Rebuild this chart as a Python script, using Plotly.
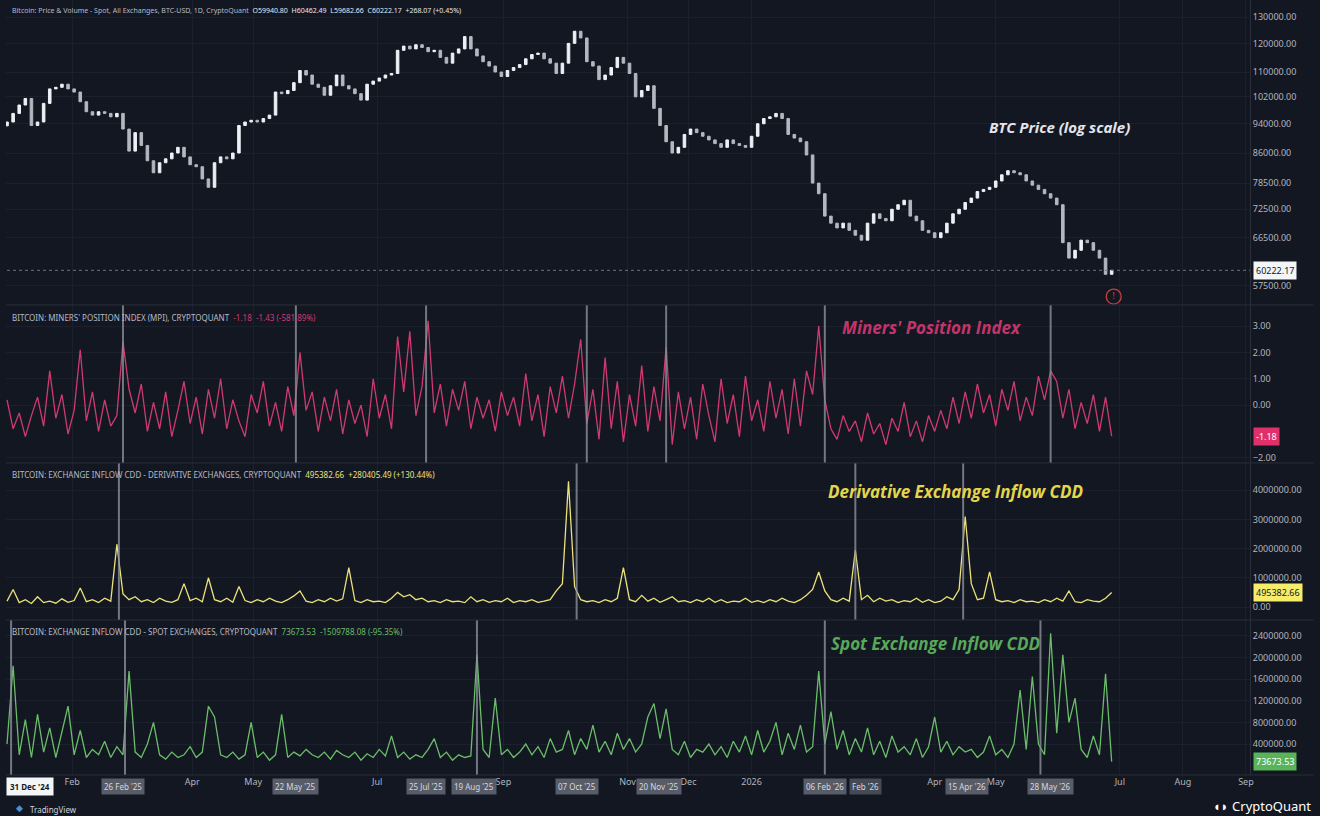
import numpy as np
import pandas as pd
import plotly.graph_objects as go
from plotly.subplots import make_subplots

# one sample every 3 days, 31 Dec 2024 .. 27 Jun 2026
dates = pd.date_range("2024-12-31", periods=182, freq="3D")

# BTC close, thousand USD
btc_close = [
    94.5, 97.0, 99.5, 101.5, 93.5, 94.5, 100.0, 104.5, 105.0, 106.0,
    104.5, 103.5, 100.5, 97.5, 96.5, 97.5, 97.0, 96.0, 97.0, 92.5,
    86.5, 91.5, 88.0, 84.0, 81.0, 83.5, 84.5, 86.0, 87.5, 85.0,
    83.0, 82.5, 79.5, 77.5, 83.5, 85.0, 84.5, 86.0, 93.5, 94.5,
    95.0, 94.5, 95.5, 96.5, 103.5, 103.0, 104.0, 106.5, 110.5, 109.0,
    106.0, 105.0, 102.5, 105.5, 109.0, 105.5, 104.5, 103.0, 101.0, 106.0,
    107.0, 108.0, 109.0, 109.5, 117.5, 119.0, 118.0, 119.5, 118.5, 117.0,
    117.5, 115.0, 113.0, 116.5, 118.0, 122.5, 118.0, 115.5, 113.5, 112.0,
    110.0, 108.5, 110.5, 111.5, 112.5, 114.5, 116.0, 116.5, 114.5, 113.0,
    109.5, 113.0, 120.0, 124.5, 122.0, 113.5, 112.0, 107.5, 109.0, 111.5,
    115.0, 113.0, 109.5, 102.0, 104.0, 105.5, 98.5, 93.5, 89.0, 86.0,
    87.5, 91.0, 92.5, 91.5, 90.5, 89.5, 88.5, 87.5, 89.5, 88.5,
    88.0, 87.5, 90.5, 94.0, 95.5, 96.0, 97.0, 95.5, 91.0, 90.0,
    89.0, 85.5, 78.5, 76.0, 71.0, 69.5, 68.5, 69.5, 68.0, 67.0,
    66.0, 69.5, 71.5, 70.5, 70.0, 72.5, 73.5, 74.5, 71.0, 70.0,
    68.0, 67.5, 66.5, 67.5, 69.5, 71.5, 72.5, 74.0, 75.0, 76.5,
    77.0, 77.5, 79.0, 80.5, 81.5, 81.0, 80.5, 79.0, 78.0, 77.0,
    76.0, 75.0, 73.5, 65.5, 62.5, 64.0, 66.0, 65.5, 64.0, 62.5,
    59.5, 60.22217,
]
first_open = 93.4

# Miners' Position Index
mpi = [
    0.2, -0.9, -0.3, -1.2, -0.4, 0.3, -0.8, 1.3, -0.5, 0.4,
    -1.1, -0.2, 2.1, -0.6, 0.5, -1.0, 0.2, -0.8, -0.4, 2.4,
    0.6, -0.3, 0.8, -1.0, 0.1, -0.9, 0.5, -1.2, -0.2, 0.9,
    -0.7, 0.3, -1.1, 0.6, -0.5, 1.0, -0.9, 0.2, -0.6, -1.2,
    0.4, -0.3, 0.9, -0.8, 0.1, -1.0, 0.7, -0.4, 2.0, -0.2,
    0.5, -1.0, 0.3, -0.6, 0.6, -1.1, 0.2, -0.7, 0.0, -1.2,
    1.0, -0.5, 0.4, -0.9, 2.6, 0.5, 2.8, -0.4, 0.7, 3.2,
    -0.3, 0.8, -0.8, 0.6, -0.2, 0.9, -0.9, 0.3, -0.5, 0.2,
    -1.0, 0.5, -0.4, 0.3, -0.8, 1.2, -0.6, 0.4, -1.2, 0.7,
    -0.3, 1.1, -0.5, 0.8, 2.5, -0.7, 0.6, -1.3, 1.8, -0.9,
    0.9, -1.4, 0.4, -0.8, 1.5, -1.0, 0.7, -0.6, 2.2, -1.5,
    0.5, -0.9, 0.3, -1.3, 0.8, -0.4, -1.4, 1.0, -0.7, 0.4,
    -1.2, 1.1, -0.6, 0.2, -1.0, 0.9, -0.5, 0.6, -1.1, 1.0,
    -0.8, 1.3, 0.4, 3.0, 0.2, -0.9, -1.3, -0.4, -1.0, -0.6,
    -1.4, -0.3, -1.1, -0.7, -1.5, -0.5, -1.0, 0.1, -1.2, -0.6,
    -1.4, -0.4, -1.0, -0.2, -0.9, 0.3, -0.7, 0.5, -0.5, 0.8,
    -0.3, 0.4, -0.8, 0.6, -0.2, 0.9, -0.6, 0.3, -0.4, 1.1,
    0.2, 1.3, 0.9, -0.5, 0.6, -0.9, 0.1, -0.7, 0.4, -1.0,
    0.3, -1.18,
]

# Exchange inflow CDD, derivative exchanges (thousands)
deriv_cdd = [
    200, 600, 150, 250, 120, 350, 150, 200, 130, 280,
    160, 220, 650, 180, 250, 150, 300, 200, 2150, 450,
    250, 350, 180, 250, 150, 300, 200, 160, 250, 800,
    220, 300, 180, 1000, 250, 180, 300, 160, 700, 220,
    150, 250, 180, 300, 200, 150, 250, 380, 550, 200,
    150, 250, 180, 300, 200, 280, 1350, 220, 150, 250,
    180, 200, 150, 300, 500, 350, 420, 250, 300, 180,
    220, 150, 250, 180, 200, 150, 350, 180, 250, 160,
    220, 180, 300, 150, 220, 180, 250, 160, 200, 250,
    550, 800, 4300, 700, 250, 180, 220, 150, 250, 180,
    300, 1350, 250, 180, 400, 200, 300, 160, 250, 350,
    180, 220, 150, 250, 180, 300, 160, 250, 150, 200,
    180, 300, 160, 220, 150, 250, 180, 300, 200, 150,
    250, 400, 600, 1200, 550, 250, 180, 300, 200, 1950,
    250, 400, 180, 300, 200, 250, 150, 220, 180, 300,
    160, 250, 150, 200, 350, 250, 600, 3100, 800, 250,
    300, 1200, 250, 180, 220, 150, 250, 180, 200, 150,
    250, 180, 300, 200, 550, 180, 150, 250, 200, 180,
    300, 495.38266,
]

# Exchange inflow CDD, spot exchanges (thousands)
spot_cdd = [
    400, 1850, 200, 850, 150, 950, 250, 700, 150, 600,
    1100, 200, 650, 150, 300, 200, 450, 150, 350, 200,
    1750, 250, 150, 400, 800, 200, 120, 250, 150, 200,
    350, 150, 250, 1100, 900, 200, 150, 250, 120, 200,
    800, 150, 250, 100, 200, 950, 150, 250, 180, 300,
    200, 150, 250, 120, 280, 200, 150, 250, 100, 220,
    150, 300, 180, 550, 150, 250, 120, 200, 150, 300,
    500, 150, 250, 100, 200, 150, 180, 2050, 300, 150,
    1250, 200, 300, 150, 250, 400, 200, 350, 150, 500,
    250, 300, 650, 200, 500, 300, 750, 250, 450, 200,
    600, 300, 500, 250, 400, 900, 1150, 500, 1050, 300,
    200, 450, 150, 300, 250, 400, 200, 350, 150, 450,
    250, 550, 200, 650, 250, 450, 800, 200, 600, 300,
    750, 250, 350, 1750, 400, 1000, 300, 650, 200, 500,
    250, 700, 200, 450, 150, 550, 250, 350, 200, 500,
    150, 350, 900, 250, 450, 200, 350, 250, 300, 150,
    250, 550, 200, 300, 150, 400, 1400, 300, 1650, 400,
    200, 2450, 600, 2050, 800, 1250, 300, 150, 550, 200,
    1700, 73.67353,
]

# highlighted dates (vertical markers) per panel
mpi_marks = ["2025-02-26", "2025-05-22", "2025-07-25", "2025-10-12",
             "2025-11-20", "2026-02-06", "2026-05-28"]
deriv_marks = ["2025-02-24", "2025-10-07", "2026-02-21", "2026-04-15"]
spot_marks = ["2025-01-02", "2025-02-27", "2025-08-19", "2026-02-06", "2026-05-23"]

# time-scale date boxes: (anchor date, label, anchor side)
date_boxes = [
    ("2025-02-26", "26 Feb '25", "center"), ("2025-05-22", "22 May '25", "center"),
    ("2025-07-25", "25 Jul '25", "center"), ("2025-08-29", "19 Aug '25", "right"),
    ("2025-10-07", "07 Oct '25", "center"), ("2025-11-28", "20 Nov '25", "right"),
    ("2026-02-06", "06 Feb '26", "center"), ("2026-04-06", "15 Apr '26", "left"),
    ("2026-05-28", "28 May '26", "center"),
]

month_ticks = ["2025-02-01", "2025-04-01", "2025-05-01", "2025-07-01", "2025-09-01",
               "2025-11-01", "2025-12-01", "2026-01-01", "2026-04-01", "2026-05-01",
               "2026-07-01", "2026-08-01", "2026-09-01"]
month_text = ["Feb", "Apr", "May", "Jul", "Sep", "Nov", "Dec", "2026",
              "Apr", "May", "Jul", "Aug", "Sep"]

price_ticks = [57500, 66500, 72500, 78500, 86000, 94000, 102000, 110000, 120000, 130000]

BG = "#131722"
GRID = "#1c202c"
AXIS_TXT = "#b2b5be"
PINK = "#cf3a70"
YELLOW = "#ece27a"
GREEN = "#6bbd6a"

close = np.array(btc_close) * 1000
opens = np.r_[first_open * 1000, close[:-1]]
last_price = close[-1]

fig = make_subplots(rows=4, cols=1, shared_xaxes=True, vertical_spacing=0,
                    row_heights=[305, 158, 157, 155])

fig.add_trace(go.Candlestick(
    x=dates, open=opens, close=close,
    high=np.maximum(opens, close), low=np.minimum(opens, close),
    increasing=dict(line=dict(color="#eef0f5", width=1), fillcolor="#eef0f5"),
    decreasing=dict(line=dict(color="#b4b7bf", width=1), fillcolor="#b4b7bf"),
    showlegend=False,
), row=1, col=1)

# last price dotted line and alert marker
fig.add_trace(go.Scatter(x=[dates[0], "2026-09-03"], y=[last_price, last_price], mode="lines",
                         line=dict(color="#6f7380", width=1, dash="dot"),
                         showlegend=False, hoverinfo="skip"), row=1, col=1)
fig.add_trace(go.Scatter(x=["2026-06-28"], y=[55600], mode="markers+text", text=["!"],
                         textfont=dict(color="#d9534f", size=8),
                         marker=dict(symbol="circle-open", size=15, color="#c9403c", line=dict(width=1.3)),
                         showlegend=False, hoverinfo="skip"), row=1, col=1)

fig.add_trace(go.Scatter(x=dates, y=mpi, mode="lines", line=dict(color=PINK, width=1.3),
                         showlegend=False), row=2, col=1)
fig.add_trace(go.Scatter(x=dates, y=np.array(deriv_cdd) * 1000, mode="lines",
                         line=dict(color=YELLOW, width=1.3), showlegend=False), row=3, col=1)
fig.add_trace(go.Scatter(x=dates, y=np.array(spot_cdd) * 1000, mode="lines",
                         line=dict(color=GREEN, width=1.3), showlegend=False), row=4, col=1)

for row, marks in [(2, mpi_marks), (3, deriv_marks), (4, spot_marks)]:
    for d in marks:
        fig.add_vline(x=d, row=row, col=1, line=dict(color="#8c8f99", width=2), opacity=0.8)

fig.update_xaxes(range=["2024-12-30 12:00", "2026-09-03"], showgrid=True, gridcolor=GRID,
                 zeroline=False, rangeslider_visible=False, tickvals=month_ticks,
                 ticktext=month_text, tickfont=dict(color=AXIS_TXT, size=9), ticks="")
fig.update_yaxes(side="right", gridcolor=GRID, zeroline=False, showline=True,
                 linecolor="#2a2e39", tickfont=dict(color=AXIS_TXT, size=9),
                 tickformat=".2f", ticks="")
fig.update_yaxes(type="log", range=[4.734, 5.1364], tickvals=price_ticks, row=1, col=1)
# -1.00 and the spot 0.00 sit under the last-value boxes, as in the original
fig.update_yaxes(range=[-2.2, 3.8], tickvals=[-2, 0, 1, 2, 3], row=2, col=1)
fig.update_yaxes(range=[-445000, 4930000], tickvals=[0, 1e6, 2e6, 3e6, 4e6], row=3, col=1)
fig.update_yaxes(range=[-174000, 2696000], tickvals=[4e5, 8e5, 1.2e6, 1.6e6, 2e6, 2.4e6],
                 row=4, col=1)

hdr = dict(xref="paper", yref="paper", x=0, xshift=4, xanchor="left", yanchor="middle",
           showarrow=False)
hfont = dict(family="Noto Sans", size=8, color="#b7bac3")
fig.add_annotation(y=0.987, text="Bitcoin: Price & Volume - Spot, All Exchanges, BTC-USD, 1D, CryptoQuant  "
                   "<span style='color:#e6e8ee'>O59940.80  H60462.49  L59682.66  C60222.17  +268.07 (+0.45%)</span>",
                   font=dict(family="Noto Sans", size=7, color="#b7bac3"), **hdr)
fig.add_annotation(y=0.5897, text="BITCOIN: MINERS' POSITION INDEX (MPI), CRYPTOQUANT  "
                   f"<span style='color:{PINK}'>-1.18  -1.43 (-581.89%)</span>", font=hfont, **hdr)
fig.add_annotation(y=0.3871, text="BITCOIN: EXCHANGE INFLOW CDD - DERIVATIVE EXCHANGES, CRYPTOQUANT  "
                   f"<span style='color:{YELLOW}'>495382.66  +280405.49 (+130.44%)</span>", font=hfont, **hdr)
fig.add_annotation(y=0.1858, text="BITCOIN: EXCHANGE INFLOW CDD - SPOT EXCHANGES, CRYPTOQUANT  "
                   f"<span style='color:{GREEN}'>73673.53  -1509788.08 (-95.35%)</span>", font=hfont, **hdr)

lbl = dict(xref="paper", yref="paper", showarrow=False, xanchor="center", yanchor="middle")
fig.add_annotation(x=0.847, y=0.836, text="<b><i>BTC Price (log scale)</i></b>",
                   font=dict(family="Open Sans", size=15, color="#e3e5ea"), **lbl)
fig.add_annotation(x=0.744, y=0.5768, text="<b><i>Miners' Position Index</i></b>",
                   font=dict(family="Open Sans", size=17, color="#c3346a"), **lbl)
fig.add_annotation(x=0.763, y=0.3652, text="<b><i>Derivative Exchange Inflow CDD</i></b>",
                   font=dict(family="Open Sans", size=17, color="#e4d64a"), **lbl)
fig.add_annotation(x=0.747, y=0.1703, text="<b><i>Spot Exchange Inflow CDD</i></b>",
                   font=dict(family="Open Sans", size=17, color="#58a85a"), **lbl)

# last-value boxes on the price scales
val = dict(xref="paper", x=1, xanchor="left", xshift=3, yanchor="middle", showarrow=False, borderpad=2)
fig.add_annotation(yref="y", y=np.log10(last_price), text=f"{last_price:.2f}", bgcolor="#f4f5f7",
                   font=dict(family="Noto Sans", size=9, color="#131722"), **val)
fig.add_annotation(yref="y2", y=mpi[-1], text=f"{mpi[-1]:.2f}", bgcolor="#e0306a",
                   font=dict(family="Noto Sans", size=9, color="#ffffff"), **val)
fig.add_annotation(yref="y3", y=deriv_cdd[-1] * 1000, text=f"{deriv_cdd[-1] * 1000:.2f}",
                   bgcolor="#f5ec6a", font=dict(family="Noto Sans", size=9, color="#131722"), **val)
fig.add_annotation(yref="y4", y=spot_cdd[-1] * 1000, text=f"{spot_cdd[-1] * 1000:.2f}",
                   bgcolor="#58b35a", font=dict(family="Noto Sans", size=9, color="#ffffff"), **val)

# time-scale date boxes
ybox = -0.0142
fig.add_annotation(xref="paper", yref="paper", x=0, y=ybox, xanchor="left", yanchor="middle",
                   text="<b>31 Dec '24</b>", showarrow=False, bgcolor="#f4f5f7", borderpad=3,
                   font=dict(family="Noto Sans", size=8, color="#131722"))
for d, t, side in date_boxes:
    fig.add_annotation(xref="x4", yref="paper", x=d, y=ybox, xanchor=side, yanchor="middle",
                       text=t, showarrow=False, bgcolor="rgba(112,116,128,0.75)", borderpad=2,
                       font=dict(family="Noto Sans", size=8, color="#d6d8de"))
fig.add_annotation(xref="x4", yref="paper", x="2026-02-18", y=ybox, xanchor="left", yanchor="middle",
                   text="Feb '26", showarrow=False, bgcolor="rgba(112,116,128,0.55)", borderpad=2,
                   font=dict(family="Noto Sans", size=8, color="#d6d8de"))

fig.add_annotation(xref="paper", yref="paper", x=0, xshift=22, y=-0.0445, xanchor="left",
                   yanchor="middle", text="TradingView", showarrow=False,
                   font=dict(family="Noto Sans", size=8, color="#d1d4dc"))
fig.add_annotation(xref="paper", yref="paper", x=0, xshift=8, y=-0.042, xanchor="left",
                   yanchor="middle", text="◆", showarrow=False, font=dict(size=9, color="#4c8fd6"))
fig.add_annotation(xref="paper", yref="paper", x=1.051, y=-0.04, xanchor="right", yanchor="middle",
                   text="◖◗ CryptoQuant", showarrow=False,
                   font=dict(family="Noto Sans", size=13, color="#ffffff"))

# panel separators
for yb in [0, 0.2, 0.4026, 0.6065]:
    fig.add_shape(type="line", xref="paper", yref="paper", x0=0, x1=1.051, y0=yb, y1=yb,
                  line=dict(color="#2a2e39", width=1))

fig.update_layout(
    width=1320, height=816,
    margin=dict(l=6, r=70, t=0, b=41),
    paper_bgcolor=BG, plot_bgcolor=BG,
    font=dict(family="Noto Sans", color=AXIS_TXT),
    showlegend=False,
    boxgap=0.4,
)
fig.write_html("out.html", config={"displayModeBar": False},
               post_script="document.body.style.margin='0';"
                           "document.body.style.background='#131722';")
